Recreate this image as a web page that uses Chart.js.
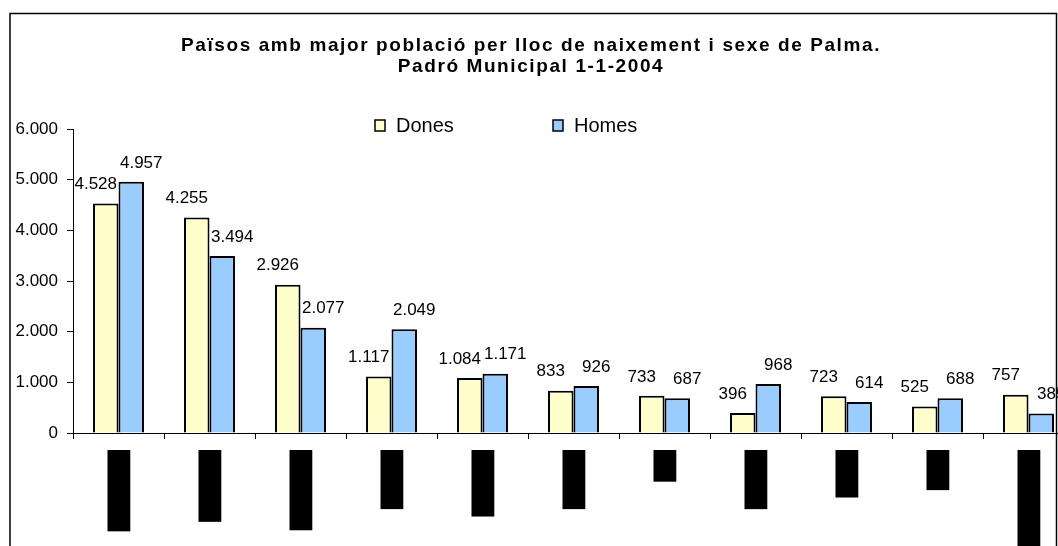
<!DOCTYPE html>
<html lang="ca">
<head>
<meta charset="utf-8">
<title>Països amb major població per lloc de naixement i sexe de Palma</title>
<script src="https://cdn.jsdelivr.net/npm/chart.js@4.4.1/dist/chart.umd.min.js"></script>
<style>
    html, body {
        margin: 0;
        padding: 0;
        background: #fff;
        overflow: hidden;
        width: 1058px;
        height: 546px;
    }
    #chartBox {
        position: absolute;
        left: 0;
        top: 0;
    }
</style>
</head>
<body>
<div id="chartBox">
    <canvas id="poblacioChart" width="1100" height="546"></canvas>
</div>
<script>
// Dades: països de naixement (Padró Municipal 1-1-2004)
const paisos = ['Argentina', 'Equador', 'Colòmbia', 'Marroc', 'Uruguai', 'França', 'Xile', 'Algèria', 'Brasil', 'Itàlia', 'Rep. Dominicana'];
const dones = [4528, 4255, 2926, 1117, 1084, 833, 733, 396, 723, 525, 757];
const homes = [4957, 3494, 2077, 2049, 1171, 926, 687, 968, 614, 688, 385];
const ticksY = [0, 1000, 2000, 3000, 4000, 5000, 6000];
const titol = ['Països amb major població per lloc de naixement i sexe de Palma.', 'Padró Municipal 1-1-2004'];

const FONT = "'Liberation Sans', Arial, sans-serif";

// Format amb punt de milers (4.528)
function formatNum(v) {
    return String(v).replace(/\B(?=(\d{3})+(?!\d))/g, '.');
}

// Marc exterior i títol (amb espaiat de lletres ample)
const framePlugin = {
    id: 'frame',
    beforeDraw(chart) {
        const ctx = chart.ctx;
        ctx.save();
        ctx.fillStyle = '#fff';
        ctx.fillRect(0, 0, chart.width, chart.height);
        ctx.strokeStyle = '#000';
        ctx.lineWidth = 1.5;
        ctx.strokeRect(10, 13.5, 1046.5, 600);

        ctx.fillStyle = '#000';
        ctx.font = 'bold 19px ' + FONT;
        ctx.letterSpacing = '1.6px';
        ctx.textAlign = 'center';
        ctx.textBaseline = 'alphabetic';
        ctx.fillText(titol[0], 531, 51);
        ctx.fillText(titol[1], 531, 72);
        ctx.restore();
    }
};

// Llegenda dibuixada a mà (Dones / Homes)
const legendPlugin = {
    id: 'llegenda',
    afterDraw(chart) {
        const ctx = chart.ctx;
        const posX = [375, 553];
        ctx.save();
        ctx.font = '20px ' + FONT;
        ctx.textBaseline = 'middle';
        chart.data.datasets.forEach((ds, i) => {
            ctx.fillStyle = ds.backgroundColor;
            ctx.fillRect(posX[i], 120, 10, 11);
            ctx.strokeStyle = '#000';
            ctx.lineWidth = 1.5;
            ctx.strokeRect(posX[i], 120, 10, 11);
            ctx.fillStyle = '#000';
            ctx.fillText(ds.label, posX[i] + 21, 126);
        });
        ctx.restore();
    }
};

// Etiquetes de valor damunt de les barres
const valorsPlugin = {
    id: 'valors',
    afterDatasetsDraw(chart) {
        const ctx = chart.ctx;
        const desplac = [-10, 10];
        ctx.save();
        ctx.font = '17px ' + FONT;
        ctx.fillStyle = '#000';
        ctx.textAlign = 'center';
        ctx.textBaseline = 'middle';
        chart.data.datasets.forEach((ds, i) => {
            const meta = chart.getDatasetMeta(i);
            meta.data.forEach((bar, j) => {
                ctx.fillText(formatNum(ds.data[j]), bar.x + desplac[i], bar.y - 19);
            });
        });
        ctx.restore();
    }
};

const ctx = document.getElementById('poblacioChart');

new Chart(ctx, {
    type: 'bar',
    data: {
        labels: paisos,
        datasets: [{
            label: 'Dones',
            data: dones,
            backgroundColor: '#FFFFCC',
            borderColor: '#000',
            borderWidth: 2
        }, {
            label: 'Homes',
            data: homes,
            backgroundColor: '#99CCFF',
            borderColor: '#000',
            borderWidth: 2
        }]
    },
    options: {
        responsive: false,
        animation: false,
        devicePixelRatio: 1,
        categoryPercentage: 0.56,
        barPercentage: 1.0,
        layout: {
            padding: {
                left: 10,
                right: 26,
                top: 129,
                bottom: 0
            }
        },
        plugins: {
            legend: {
                display: false
            },
            tooltip: {
                enabled: false
            },
            title: {
                display: false
            }
        },
        scales: {
            x: {
                afterFit(scale) {
                    scale.height = 113;
                },
                border: {
                    display: true,
                    color: '#000',
                    width: 1
                },
                grid: {
                    drawOnChartArea: false,
                    drawTicks: true,
                    tickLength: 6,
                    color: '#000',
                    offset: true
                },
                ticks: {
                    autoSkip: false,
                    maxRotation: 90,
                    minRotation: 90,
                    labelOffset: -11,
                    color: '#000',
                    padding: 11,
                    showLabelBackdrop: true,
                    backdropColor: '#000',
                    backdropPadding: 0,
                    font: {
                        family: FONT,
                        size: 19
                    }
                }
            },
            y: {
                min: 0,
                max: 6000,
                afterFit(scale) {
                    scale.width = 63;
                },
                afterBuildTicks(scale) {
                    scale.ticks = ticksY.map(v => ({ value: v }));
                },
                border: {
                    display: true,
                    color: '#000',
                    width: 1
                },
                grid: {
                    drawOnChartArea: false,
                    drawTicks: true,
                    tickLength: 6,
                    color: '#000'
                },
                ticks: {
                    color: '#000',
                    padding: 9,
                    callback: function (value) {
                        return formatNum(value);
                    },
                    font: {
                        family: FONT,
                        size: 17
                    }
                }
            }
        }
    },
    plugins: [framePlugin, legendPlugin, valorsPlugin]
});
</script>
</body>
</html>
